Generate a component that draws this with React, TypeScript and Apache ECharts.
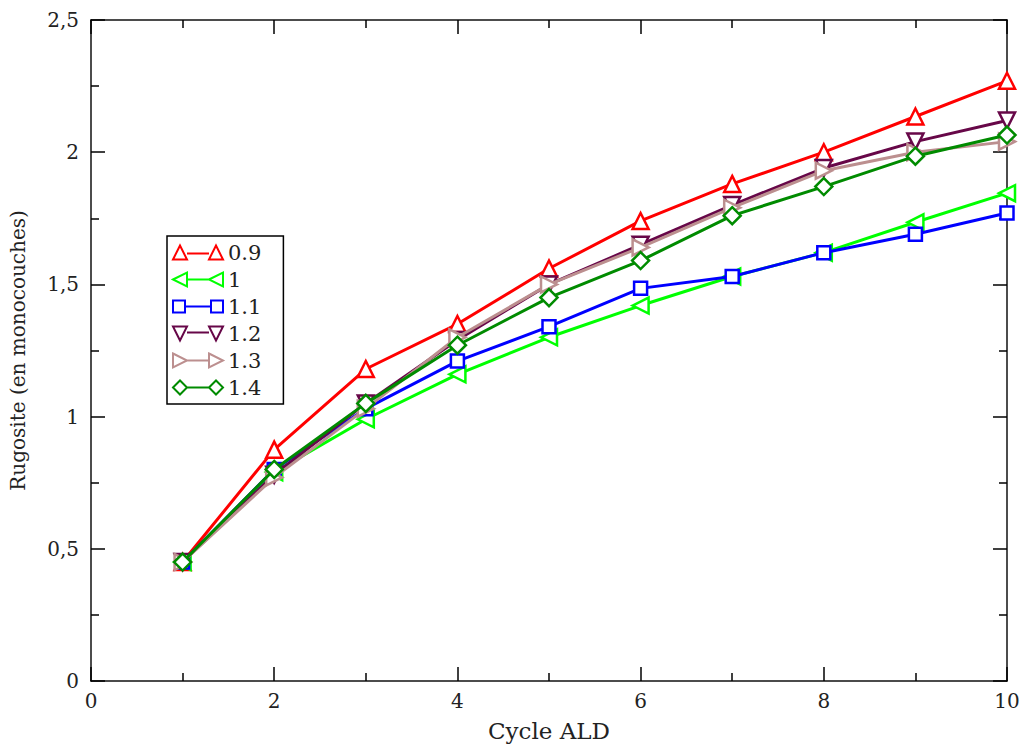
import React, { useEffect, useRef } from "react";
import * as echarts from "echarts";

const cycles = [1, 2, 3, 4, 5, 6, 7, 8, 9, 10];
const seriesNames = ["0.9", "1", "1.1", "1.2", "1.3", "1.4"];
const s09 = [0.45, 0.875, 1.18, 1.35, 1.56, 1.74, 1.88, 2.0, 2.135, 2.27];
const s10 = [0.45, 0.79, 0.99, 1.16, 1.3, 1.42, 1.53, 1.62, 1.735, 1.845];
const s11 = [0.45, 0.8, 1.03, 1.21, 1.34, 1.485, 1.53, 1.62, 1.69, 1.77];
const s12 = [0.45, 0.78, 1.05, 1.29, 1.5, 1.65, 1.8, 1.94, 2.04, 2.12];
const s13 = [0.45, 0.77, 1.03, 1.3, 1.5, 1.64, 1.79, 1.93, 2.0, 2.04];
const s14 = [0.45, 0.8, 1.05, 1.27, 1.45, 1.59, 1.76, 1.87, 1.985, 2.065];
const allValues = [s09, s10, s11, s12, s13, s14];
const colors = ["#ff0000", "#00ff00", "#0000ff", "#670748", "#bc8f8f", "#008b00"];
const symbols = ["triangle", "triangle", "rect", "triangle", "triangle", "diamond"];
const rotations = [0, 90, 0, 180, -90, 0];
const xTicks = [0, 2, 4, 6, 8, 10];
const yTicks = [0, 0.5, 1, 1.5, 2, 2.5];

// legend icon shapes: marker at each end joined by a line (50 x 14 box)
const legendIcons = [
  "path://M0,14L7,0L14,14ZM14,8L36,8M36,14L43,0L50,14Z",
  "path://M0,7L14,0L14,14ZM14,7L36,7M36,7L50,0L50,14Z",
  "path://M0,1L12,1L12,13L0,13ZM12,7L38,7M38,1L50,1L50,13L38,13Z",
  "path://M0,0L14,0L7,14ZM14,6L36,6M36,0L50,0L43,14Z",
  "path://M0,0L14,7L0,14ZM14,7L36,7M36,0L50,7L36,14Z",
  "path://M0,7L7,0L14,7L7,14ZM14,7L36,7M36,7L43,0L50,7L43,14Z",
];

const FONT = "DejaVu Serif";

export default function App() {
  const ref = useRef<HTMLDivElement>(null);
  useEffect(() => {
    if (!ref.current) return;
    const chart = echarts.init(ref.current, null, { renderer: "svg" });
    const tickStyle = { color: "#000", width: 1.5 };
    const axisCommon = {
      axisLine: { show: true, onZero: false, lineStyle: { color: "#111", width: 1.5 } },
      splitLine: { show: false },
      axisTick: { show: true, inside: true, length: 14, lineStyle: tickStyle },
      minorTick: { show: true, splitNumber: 2, length: 8, lineStyle: tickStyle },
    };
    chart.setOption({
      animation: false,
      backgroundColor: "#fff",
      textStyle: { fontFamily: FONT },
      grid: { left: 88, right: 17, top: 20, bottom: 62, containLabel: false },
      legend: {
        orient: "vertical",
        left: 167,
        top: 236,
        data: seriesNames.map((name, i) => ({ name, icon: legendIcons[i] })),
        itemWidth: 50,
        itemHeight: 15,
        itemGap: 6,
        padding: [6, 22, 6, 5],
        borderColor: "#000",
        borderWidth: 1.5,
        backgroundColor: "#fff",
        textStyle: { fontFamily: FONT, fontSize: 21, color: "#222" },
      },
      xAxis: [
        {
          ...axisCommon,
          type: "value",
          min: 0,
          max: 10,
          interval: 2,
          name: "Cycle ALD",
          nameLocation: "middle",
          nameGap: 38,
          nameTextStyle: { fontFamily: FONT, fontSize: 23, color: "#222" },
          axisLabel: {
            fontFamily: FONT,
            fontSize: 20,
            color: "#222",
            margin: 10,
            customValues: xTicks,
          },
        },
        {
          ...axisCommon,
          type: "value",
          position: "top",
          min: 0,
          max: 10,
          interval: 2,
          axisLabel: { show: false },
        },
      ],
      yAxis: [
        {
          ...axisCommon,
          type: "value",
          min: 0,
          max: 2.5,
          interval: 0.5,
          name: "Rugosite (en monocouches)",
          nameLocation: "middle",
          nameGap: 63,
          nameTextStyle: { fontFamily: FONT, fontSize: 20, color: "#222" },
          axisLabel: {
            fontFamily: FONT,
            fontSize: 20,
            color: "#222",
            margin: 12,
            customValues: yTicks,
            formatter: (v: number) => String(v).replace(".", ","),
          },
        },
        {
          ...axisCommon,
          type: "value",
          position: "right",
          min: 0,
          max: 2.5,
          interval: 0.5,
          axisLabel: { show: false },
        },
      ],
      series: seriesNames.map((name, i) => ({
        name,
        type: "line",
        xAxisIndex: 0,
        yAxisIndex: 0,
        data: cycles.map((c, j) => [c, allValues[i][j]]),
        symbol: symbols[i],
        symbolRotate: rotations[i],
        symbolSize: symbols[i] === "rect" ? 13 : symbols[i] === "diamond" ? 17 : 16,
        showAllSymbol: true,
        color: colors[i],
        lineStyle: { color: colors[i], width: 3 },
        itemStyle: { color: "#fff", borderColor: colors[i], borderWidth: 2.5 },
        emphasis: { disabled: true },
        z: 2 + i,
      })),
    });
    return () => chart.dispose();
  }, []);
  return (
    <div
      ref={ref}
      style={{ position: "fixed", left: 0, top: 0, width: 1024, height: 747 }}
    />
  );
}
